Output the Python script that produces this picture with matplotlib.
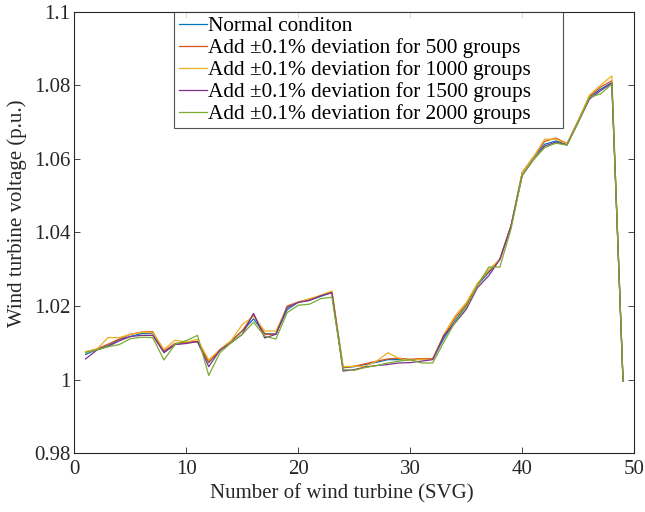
import numpy as np
import matplotlib
matplotlib.use('Agg')
import matplotlib.pyplot as plt
from matplotlib.ticker import FuncFormatter

plt.rcParams['font.family'] = ['Liberation Serif', 'DejaVu Serif']

# turbine number
turbine = np.arange(1, 50)

# voltages (p.u.)
v_normal = [1.0068, 1.0082, 1.0092, 1.0109, 1.0117, 1.0125, 1.0125, 1.0075, 1.0097, 1.0101,
            1.0103, 1.0046, 1.0080, 1.0104, 1.0132, 1.0165, 1.0125, 1.0124, 1.0190, 1.0210,
            1.0216, 1.0226, 1.0237, 1.0032, 1.0035, 1.0041, 1.0047, 1.0054, 1.0054, 1.0054,
            1.0055, 1.0055, 1.0112, 1.0160, 1.0200, 1.0257, 1.0291, 1.0327, 1.0418, 1.0563,
            1.0605, 1.0640, 1.0649, 1.0640, 1.0704, 1.0768, 1.0790, 1.0808, 0.9996]
v_500 = [1.0075, 1.0083, 1.0096, 1.0110, 1.0123, 1.0129, 1.0130, 1.0078, 1.0098, 1.0101,
         1.0104, 1.0048, 1.0081, 1.0105, 1.0133, 1.0177, 1.0123, 1.0123, 1.0200, 1.0211,
         1.0218, 1.0228, 1.0238, 1.0033, 1.0036, 1.0043, 1.0050, 1.0056, 1.0058, 1.0055,
         1.0057, 1.0057, 1.0118, 1.0168, 1.0205, 1.0260, 1.0295, 1.0327, 1.0418, 1.0563,
         1.0605, 1.0648, 1.0657, 1.0642, 1.0704, 1.0770, 1.0796, 1.0813, 0.9996]
v_1000 = [1.0076, 1.0082, 1.0114, 1.0114, 1.0123, 1.0128, 1.0127, 1.0082, 1.0107, 1.0102,
          1.0109, 1.0053, 1.0082, 1.0106, 1.0150, 1.0172, 1.0132, 1.0132, 1.0196, 1.0211,
          1.0220, 1.0229, 1.0241, 1.0035, 1.0036, 1.0036, 1.0050, 1.0073, 1.0057, 1.0052,
          1.0055, 1.0055, 1.0123, 1.0173, 1.0209, 1.0262, 1.0298, 1.0327, 1.0418, 1.0563,
          1.0605, 1.0654, 1.0654, 1.0641, 1.0704, 1.0774, 1.0801, 1.0826, 0.9996]
v_1500 = [1.0056, 1.0080, 1.0090, 1.0105, 1.0117, 1.0120, 1.0120, 1.0073, 1.0095, 1.0098,
          1.0103, 1.0035, 1.0080, 1.0100, 1.0123, 1.0180, 1.0113, 1.0123, 1.0196, 1.0210,
          1.0215, 1.0228, 1.0236, 1.0023, 1.0027, 1.0034, 1.0038, 1.0041, 1.0045, 1.0046,
          1.0050, 1.0054, 1.0120, 1.0154, 1.0191, 1.0250, 1.0282, 1.0327, 1.0418, 1.0555,
          1.0598, 1.0635, 1.0646, 1.0638, 1.0700, 1.0763, 1.0786, 1.0806, 0.9996]
v_2000 = [1.0073, 1.0081, 1.0089, 1.0095, 1.0111, 1.0115, 1.0114, 1.0053, 1.0096, 1.0106,
          1.0120, 1.0011, 1.0073, 1.0100, 1.0123, 1.0156, 1.0118, 1.0110, 1.0182, 1.0202,
          1.0205, 1.0220, 1.0224, 1.0027, 1.0025, 1.0033, 1.0038, 1.0045, 1.0050, 1.0054,
          1.0045, 1.0045, 1.0102, 1.0156, 1.0198, 1.0255, 1.0306, 1.0306, 1.0410, 1.0556,
          1.0598, 1.0631, 1.0643, 1.0638, 1.0700, 1.0768, 1.0777, 1.0804, 0.9996]

labels = ['Normal conditon',
          'Add \u00b10.1% deviation for 500 groups',
          'Add \u00b10.1% deviation for 1000 groups',
          'Add \u00b10.1% deviation for 1500 groups',
          'Add \u00b10.1% deviation for 2000 groups']
colors = ['#0072BD', '#D95319', '#EDB120', '#7E2F8E', '#77AC30']

fig = plt.figure(figsize=(6.45, 5.12), dpi=100)
ax = fig.add_axes([0.1153, 0.1152, 0.868, 0.8614])

for v, lab, c in zip([v_normal, v_500, v_1000, v_1500, v_2000], labels, colors):
    ax.plot(turbine, v, color=c, lw=0.9, label=lab)

ax.set_xlim(0, 50)
ax.set_ylim(0.98, 1.1)
ax.set_xticks(np.arange(0, 51, 10))
ax.set_yticks(np.arange(0.98, 1.1001, 0.02))
ax.yaxis.set_major_formatter(FuncFormatter(lambda y, p: '%g' % round(y, 2)))

for s in ax.spines.values():
    s.set_color('#262626')
    s.set_linewidth(0.8)
ax.tick_params(direction='in', top=True, right=True, length=4, width=0.6,
               colors='#262626', labelsize=15, pad=3)
ax.tick_params(axis='x', pad=5)

ax.set_xlabel('Number of wind turbine (SVG)', fontsize=15, color='#262626')
ax.set_ylabel('Wind turbine voltage (p.u.)', fontsize=15, color='#262626')
ax.xaxis.set_label_coords(0.478, -0.07)
ax.yaxis.set_label_coords(-0.085, 0.544)

leg = ax.legend(loc='upper left', bbox_to_anchor=(0.1786, 0.739, 0.6946, 0.261),
                mode='expand', fontsize=15.3, frameon=True, fancybox=False,
                handlelength=1.35, handletextpad=0.05, labelspacing=0.1,
                borderpad=0.2, borderaxespad=0)
leg.get_frame().set_edgecolor('#262626')
leg.get_frame().set_linewidth(0.8)

plt.savefig('out.png', dpi=100)
plt.close()
